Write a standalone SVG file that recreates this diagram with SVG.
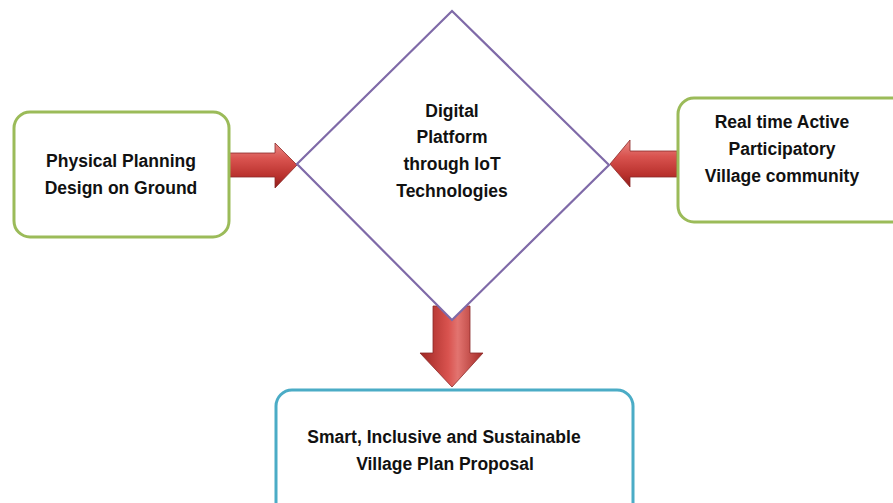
<svg xmlns="http://www.w3.org/2000/svg" width="893" height="503" viewBox="0 0 893 503">
<style>
.box{fill:#fff;stroke-width:3}
.g{stroke:#9BBB59}
.b{stroke:#4BACC6}
.t{font-family:"Liberation Sans",Arial,sans-serif;font-weight:bold;font-size:17.5px;fill:#111;text-anchor:middle}
.arr{stroke:#8C2A28;stroke-width:0.8}
</style>
<defs>
<linearGradient id="gh" x1="0" y1="0" x2="0" y2="1">
<stop offset="0" stop-color="#E88A86"/>
<stop offset="0.35" stop-color="#D9534F"/>
<stop offset="0.75" stop-color="#B8302C"/>
<stop offset="1" stop-color="#8E1E1B"/>
</linearGradient>
<linearGradient id="gv" x1="0" y1="0" x2="1" y2="0">
<stop offset="0" stop-color="#9E2622"/>
<stop offset="0.45" stop-color="#D9534F"/>
<stop offset="0.6" stop-color="#E27470"/>
<stop offset="1" stop-color="#A52A26"/>
</linearGradient>
</defs>
<g id="connectors">
<path class="arr" fill="url(#gh)" d="M229,153 L275,153 L275,143 L297,165 L275,188 L275,177 L229,177 Z"/>
<path class="arr" fill="url(#gh)" d="M677,151 L630,151 L630,140 L610,164 L630,187 L630,177 L677,177 Z"/>
<path class="arr" fill="url(#gv)" d="M433,306 L470,306 L470,353 L483,353 L452,387 L420,353 L433,353 Z"/>
</g>
<g id="node-physical">
<rect class="box g" x="14" y="112" width="215" height="125" rx="16"/>
<text class="t" x="121" y="167">Physical Planning</text>
<text class="t" x="121" y="194">Design on Ground</text>
</g>
<g id="node-digital">
<polygon points="452,11 609,165 452,320 297,164" fill="#fff" stroke="#7F6AA8" stroke-width="2.2"/>
<text class="t" x="452" y="117">Digital</text>
<text class="t" x="452" y="143">Platform</text>
<text class="t" x="452" y="170">through IoT</text>
<text class="t" x="452" y="197">Technologies</text>
</g>
<g id="node-community">
<rect class="box g" x="678" y="98" width="230" height="124" rx="16"/>
<text class="t" x="782" y="128">Real time Active</text>
<text class="t" x="782" y="155">Participatory</text>
<text class="t" x="782" y="182">Village community</text>
</g>
<g id="node-proposal">
<rect class="box b" x="276" y="390" width="357" height="130" rx="16"/>
<text class="t" x="444" y="443">Smart, Inclusive and Sustainable</text>
<text class="t" x="445" y="470">Village Plan Proposal</text>
</g>
</svg>
